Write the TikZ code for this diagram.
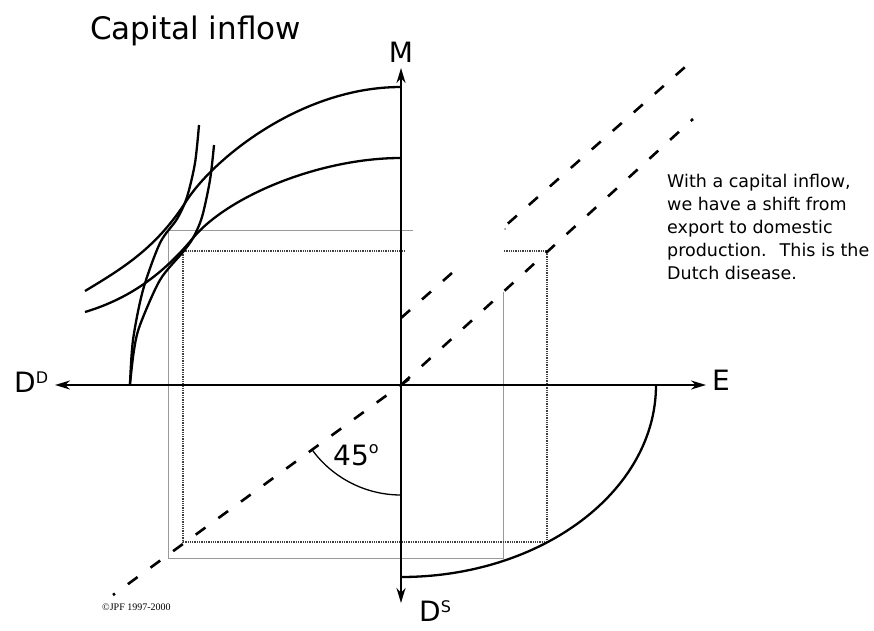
\documentclass[tikz,border=0pt]{standalone}
\usepackage{fontspec}
\setmainfont{DejaVu Sans}
\newfontfamily\copyfont{Liberation Serif}
\usetikzlibrary{arrows.meta,calc}
\newcommand{\axsup}[2][8.5pt]{\raisebox{#1}{\fontsize{16}{16}\selectfont #2}}
\tikzset{
  axis/.style={line width=2.2pt, -{Stealth[length=15pt,width=9pt]}},
  curve/.style={line width=2.3pt},
  budget/.style={line width=2.6pt, dash pattern=on 12pt off 16pt},
  before/.style={line width=1.3pt, densely dotted, black!75},
  after/.style={line width=0.7pt, gray!80},
  axlabel/.style={font=\fontsize{28}{28}\selectfont, inner sep=0pt},
}

\begin{document}
\begin{tikzpicture}[x=1pt,y=1pt]
  \useasboundingbox (0,0) rectangle (874,630);

  \coordinate (O) at (401,245);
  \coordinate (west) at (55,245);
  \coordinate (east) at (706,245);
  \coordinate (north) at (401,562);
  \coordinate (south) at (401,27);

  % rectangle after the inflow
  \draw[after] (413,400) -- (168,400) -- (168,72) -- (503,72) -- (503,338);
  \fill[gray] (505,401) circle (1pt);

  % rectangle before the inflow
  \draw[before] (405,379) -- (183,379) -- (183,88) -- (547,88) -- (547,379) -- (503,379);

  % trade balance lines
  \coordinate (U0) at (401,312);
  \coordinate (U1) at (693,570);
  \coordinate (L1) at (693,511);
  \draw[budget] (U0) -- ($(U0)!0.185!(U1)$);
  \draw[budget] ($(U0)!0.366!(U1)$) -- (U1);
  \draw[budget] (O) -- (L1);

  % 45 degree line
  \coordinate (F0) at (409,251);
  \coordinate (F1) at (113,35);
  \draw[budget] (F0) -- (F1);
  \draw[line width=1.3pt] ($(O)+(270:110)$) arc[start angle=270, end angle=216, radius=110];
  \node[axlabel, anchor=base west] (angle) at (333,165) {45\axsup[11.5pt]{o}};

  % axes
  \draw[axis] (O) -- (west);
  \draw[axis] (O) -- (east);
  \draw[axis] (O) -- (north);
  \draw[axis] (O) -- (south);
  \node[axlabel, anchor=base west] (DD) at (14,238) {D\axsup{D}};
  \node[axlabel, anchor=base west] (E) at (712,240) {E};
  \node[axlabel, anchor=base] (M) at (401,567) {M};
  \node[axlabel, anchor=base west] (DS) at (419,9) {D\axsup{S}};

  % possibility curves
  \draw[curve] (85,339) .. controls (125,363) and (157,383) .. (187,430)
    .. controls (213,470) and (300,543) .. (401,543);
  \draw[curve] (85,318) .. controls (125,330) and (160,352) .. (193,392)
    .. controls (228,434) and (320,472) .. (401,472);

  % indifference curves
  \draw[curve] plot[smooth] coordinates {(130,246) (133,290) (143,340) (160,387) (177,411)
    (187,433) (195,467) (199,505)};
  \draw[curve] plot[smooth] coordinates {(130,246) (134,280) (140,305) (160,350) (183,378)
    (193,392) (202,413) (210,450) (214,485)};

  % production possibility curve
  \draw[curve] (656,245) arc[start angle=0, end angle=-90, x radius=255, y radius=192];

  % texts
  \node[anchor=base west, inner sep=0pt, font=\fontsize{31}{31}\selectfont] (title) at (90,590) {Capital inflow};
  \node[anchor=north west, inner sep=0pt, align=left, font=\fontsize{17.5}{23}\selectfont] (note) at (667,456)
    {With a capital inflow,\\ we have a shift from\\ export to domestic\\ production.~ This is the\\ Dutch disease.};
  \node[anchor=base west, inner sep=0pt, font=\copyfont\fontsize{10}{10}\selectfont] (copy) at (102,20) {©JPF 1997-2000};
\end{tikzpicture}
\end{document}
